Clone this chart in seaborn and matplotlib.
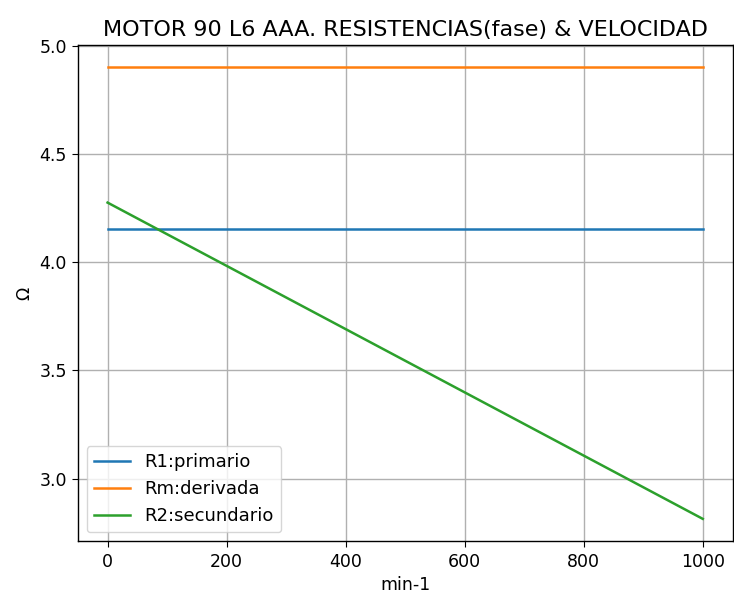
import matplotlib
matplotlib.use("Agg")
import matplotlib.pyplot as plt
import seaborn as sns
import pandas as pd

# Speed (min-1) and phase resistances (Ohm)
velocidad = [0, 200, 400, 600, 800, 1000]
r1_primario = [4.155, 4.155, 4.155, 4.155, 4.155, 4.155]
rm_derivada = [4.9, 4.9, 4.9, 4.9, 4.9, 4.9]
r2_secundario = [4.275, 3.983, 3.691, 3.399, 3.107, 2.815]
series = ["R1:primario", "Rm:derivada", "R2:secundario"]

df = pd.DataFrame({
    "min-1": velocidad * 3,
    "Ω": r1_primario + rm_derivada + r2_secundario,
    "serie": [series[0]] * 6 + [series[1]] * 6 + [series[2]] * 6,
})

fig, ax = plt.subplots(figsize=(7.34, 5.95), dpi=100)
sns.lineplot(data=df, x="min-1", y="Ω", hue="serie", ax=ax,
             palette=["#1f77b4", "#ff7f0e", "#2ca02c"], linewidth=1.8)
ax.grid(True, linewidth=1.0)
ax.set_title("MOTOR 90 L6 AAA. RESISTENCIAS(fase) & VELOCIDAD", fontsize=16)
ax.legend(loc="lower left", fontsize=13)
ax.tick_params(labelsize=12.5, length=4.5)
ax.set_xlabel("min-1", fontsize=12.5)
ax.set_ylabel("Ω", fontsize=12.5)
for s in ax.spines.values():
    s.set_linewidth(1.0)
fig.subplots_adjust(left=0.106, right=0.998, top=0.925, bottom=0.09)
fig.savefig("out.png", dpi=100)
